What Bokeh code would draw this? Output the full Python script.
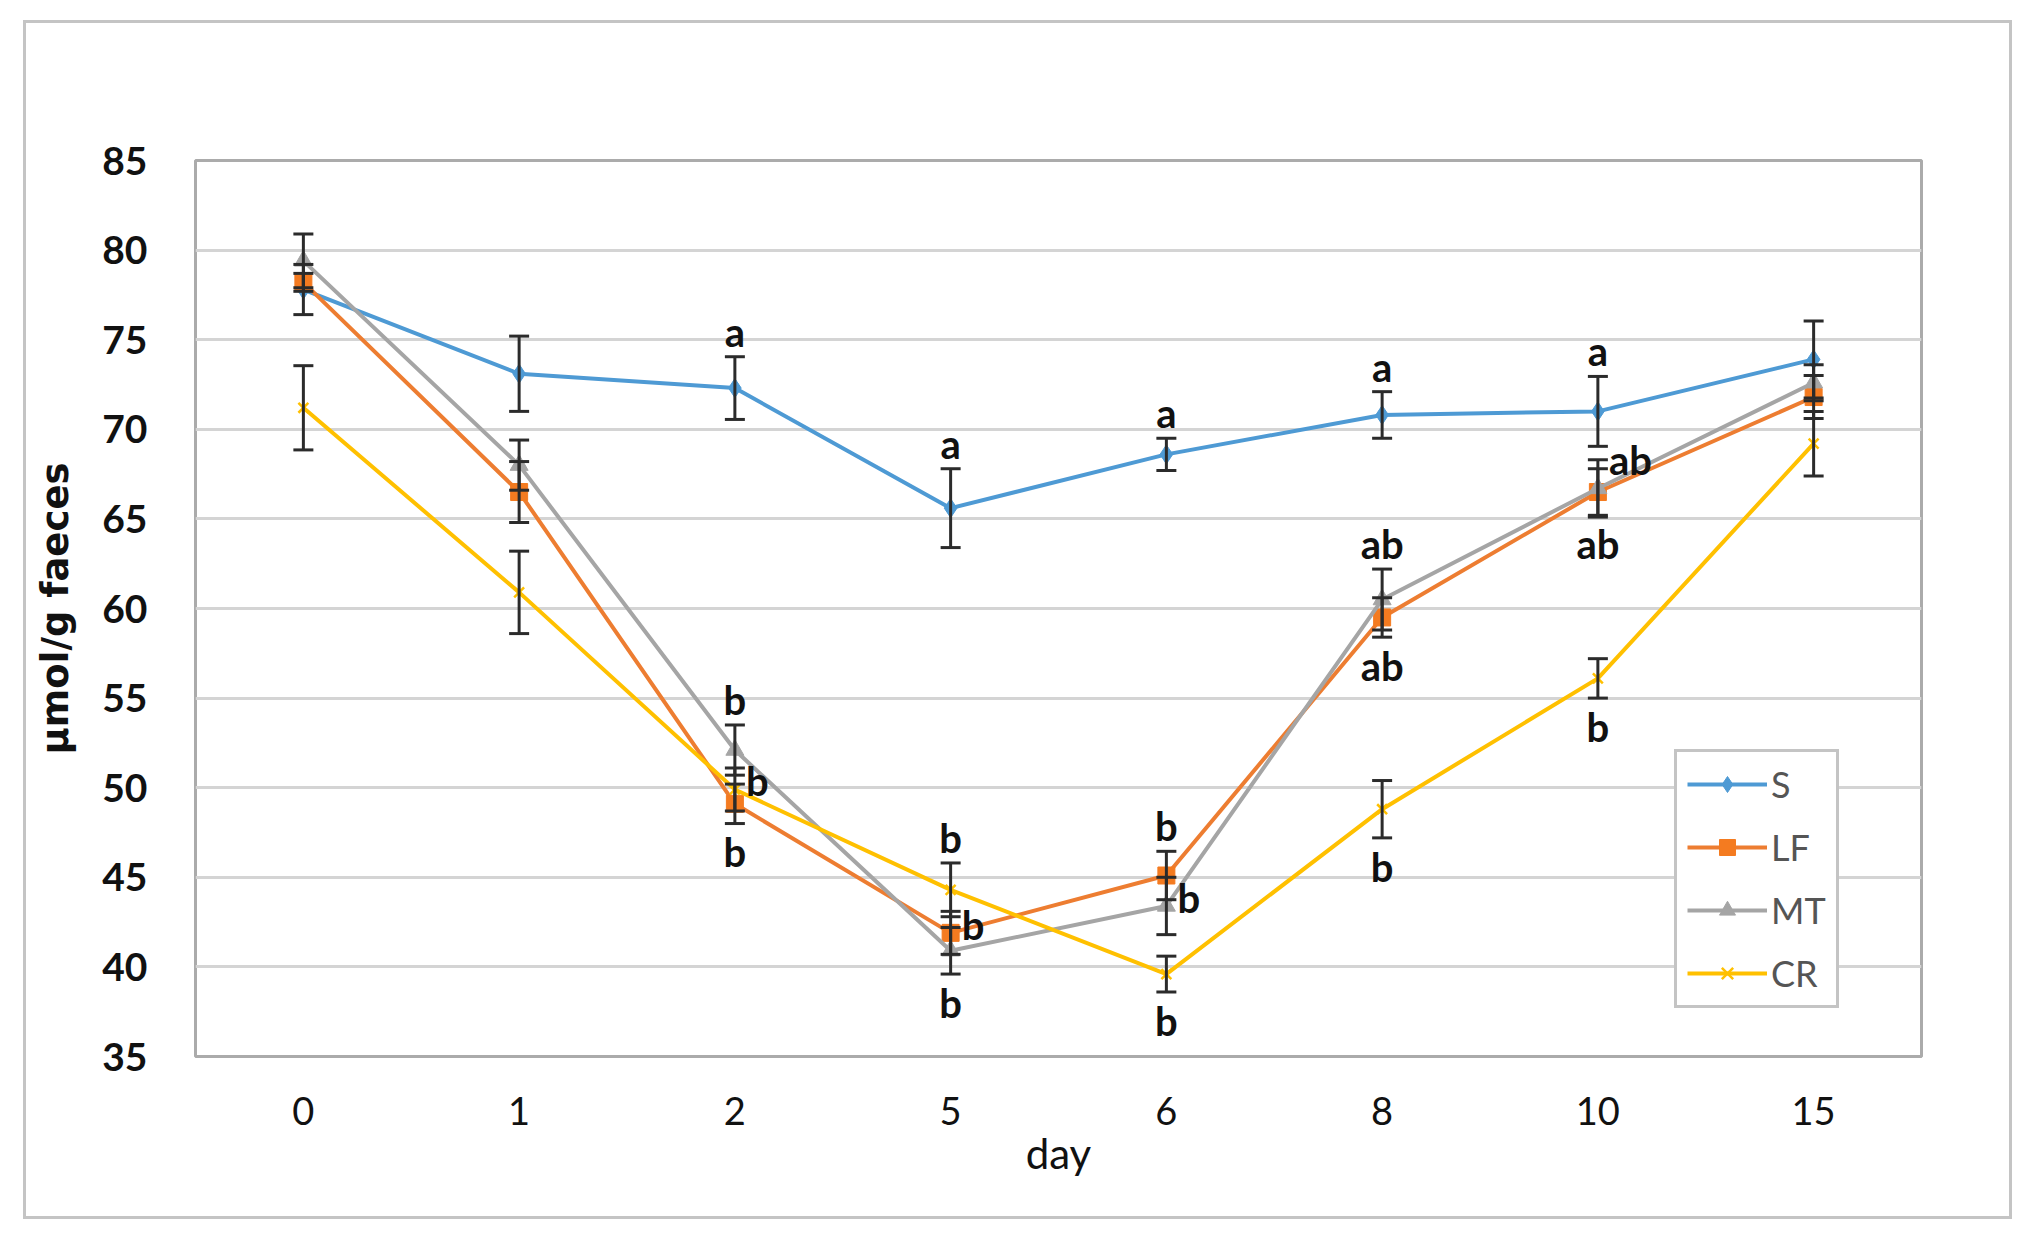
from bokeh.plotting import figure
from bokeh.models import (FactorRange, Range1d, FixedTicker, ColumnDataSource, Whisker,
                          TeeHead, Legend, LegendItem, Spacer)
from bokeh.layouts import column, row
from bokeh.core.properties import value
from bokeh.embed import file_html
from bokeh.resources import INLINE

# ---------------- data ----------------
days = ["0", "1", "2", "5", "6", "8", "10", "15"]
y_ticks = [35, 40, 45, 50, 55, 60, 65, 70, 75, 80, 85]
series_names = ["S", "LF", "MT", "CR"]

S_mean = [77.8, 73.1, 72.3, 65.6, 68.6, 70.8, 71.0, 73.9]
S_err = [1.4, 2.1, 1.75, 2.2, 0.9, 1.3, 1.95, 2.15]
LF_mean = [78.2, 66.5, 49.1, 41.9, 45.1, 59.5, 66.5, 71.8]
LF_err = [0.5, 1.7, 1.1, 1.2, 1.35, 1.1, 1.3, 1.2]
MT_mean = [79.4, 68.0, 52.1, 40.9, 43.4, 60.5, 66.7, 72.6]
MT_err = [1.5, 1.4, 1.4, 1.3, 1.6, 1.7, 1.6, 1.0]
CR_mean = [71.2, 60.9, 49.9, 44.3, 39.6, 48.8, 56.1, 69.2]
CR_err = [2.35, 2.3, 1.2, 1.5, 1.0, 1.6, 1.1, 1.8]

# significance letters: day, series they refer to, text, placement
ann_day = ["2", "2", "2", "2",
           "5", "5", "5", "5",
           "6", "6", "6", "6",
           "8", "8", "8", "8",
           "10", "10", "10", "10"]
ann_series = ["S", "MT", "CR", "LF",
              "S", "CR", "LF", "MT",
              "S", "LF", "MT", "CR",
              "S", "MT", "LF", "CR",
              "S", "MT", "LF", "CR"]
ann_text = ["a", "b", "b", "b",
            "a", "b", "b", "b",
            "a", "b", "b", "b",
            "a", "ab", "ab", "b",
            "a", "ab", "ab", "b"]
ann_place = ["above", "above", "right", "below",
             "above", "above", "right", "below",
             "above", "above", "right", "below",
             "above", "above", "below", "below",
             "above", "right_top", "below", "below"]

colors = {"S": "#4E9AD4", "LF": "#ED7D31", "MT": "#A5A5A5", "CR": "#FFC000"}
means = {"S": S_mean, "LF": LF_mean, "MT": MT_mean, "CR": CR_mean}
errs = {"S": S_err, "LF": LF_err, "MT": MT_err, "CR": CR_err}

# ---------------- figure ----------------
W, H = 1983, 1193
p = figure(width=W, height=H, x_range=FactorRange(*days, range_padding=0),
           y_range=Range1d(35, 85), output_backend="svg", toolbar_location=None,
           min_border_left=169, min_border_right=88, min_border_top=137,
           min_border_bottom=160)
# outer chart-area border drawn just outside the figure
p.styles = {"outline": "3px solid #c4c4c4", "outline-offset": "0px"}
p.background_fill_color = "white"
p.border_fill_color = "white"
p.outline_line_color = "#ababab"
p.outline_line_width = 3

p.xgrid.grid_line_color = None
p.ygrid.grid_line_color = "#d4d4d4"
p.ygrid.grid_line_width = 3
p.yaxis.ticker = FixedTicker(ticks=y_ticks)

for ax in (p.xaxis, p.yaxis):
    ax.axis_line_color = None
    ax.major_tick_line_color = None
    ax.minor_tick_line_color = None

p.yaxis.major_label_text_font = "Lato"
p.yaxis.major_label_text_font_style = "bold"
p.yaxis.major_label_text_font_size = "39px"
p.yaxis.major_label_text_color = "#111111"
p.yaxis.major_label_standoff = 42
p.yaxis.axis_label = "µmol/g faeces"
p.yaxis.axis_label_text_font = "DejaVu Sans"
p.yaxis.axis_label_text_font_style = "bold"
p.yaxis.axis_label_text_font_size = "37px"
p.yaxis.axis_label_text_color = "#111111"
p.yaxis.axis_label_standoff = 22

p.xaxis.major_label_text_font = "Lato"
p.xaxis.major_label_text_font_size = "38px"
p.xaxis.major_label_text_color = "#111111"
p.xaxis.major_label_standoff = 34
p.xaxis.axis_label = "day"
p.xaxis.axis_label_text_font = "Lato"
p.xaxis.axis_label_text_font_style = "normal"
p.xaxis.axis_label_text_font_size = "42px"
p.xaxis.axis_label_text_color = "#111111"
p.xaxis.axis_label_standoff = 0

legend_items = []
for name in series_names:
    m, e = means[name], errs[name]
    src = ColumnDataSource(dict(day=days, mean=m,
                                upper=[a + b for a, b in zip(m, e)],
                                lower=[a - b for a, b in zip(m, e)]))
    c = colors[name]
    ln = p.line("day", "mean", source=src, line_color=c, line_width=4)
    if name == "S":
        mk = p.scatter("day", "mean", source=src, marker="diamond", size=19,
                       fill_color=c, line_color=c)
    elif name == "LF":
        mk = p.scatter("day", "mean", source=src, marker="square", size=17,
                       fill_color="#F47B20", line_color="#F47B20")
    elif name == "MT":
        mk = p.scatter("day", "mean", source=src, marker="triangle", size=18,
                       fill_color=c, line_color=c)
    else:
        mk = p.scatter("day", "mean", source=src, marker="x", size=14,
                       line_color=c, line_width=2.5)
    wh = Whisker(base="day", upper="upper", lower="lower", source=src,
                 line_color="#2b2b2b", line_width=3, level="overlay",
                 upper_head=TeeHead(size=20, line_color="#2b2b2b", line_width=3),
                 lower_head=TeeHead(size=20, line_color="#2b2b2b", line_width=3))
    p.add_layout(wh)
    legend_items.append(LegendItem(label=name, renderers=[ln, mk]))

# significance letters
groups = {"center": dict(x=[], y=[], t=[]), "right": dict(x=[], y=[], t=[])}
for d, s, t, pl in zip(ann_day, ann_series, ann_text, ann_place):
    i = days.index(d)
    m, e = means[s][i], errs[s][i]
    if pl == "above":
        g, y = "center", m + e + 1.4
    elif pl == "below":
        g, y = "center", m - e - 1.6
    elif pl == "right":
        g, y = "right", m + 0.45
    else:
        g, y = "right", m + e
    groups[g]["x"].append(d)
    groups[g]["y"].append(y)
    groups[g]["t"].append(t)

for g, align, xoff in (("center", "center", 0), ("right", "left", 11)):
    p.text(x=groups[g]["x"], y=groups[g]["y"], text=groups[g]["t"],
           text_align=align, text_baseline="middle", x_offset=xoff,
           text_font=value("Lato"), text_font_style="bold",
           text_font_size="40px", text_color="#111111")

legend = Legend(items=legend_items, location=(1479, 48))
legend.border_line_color = "#8a8a8a"
legend.border_line_width = 3
legend.background_fill_color = "white"
legend.background_fill_alpha = 1
legend.label_text_font = "Lato"
legend.label_text_font_size = "36px"
legend.label_text_color = "#555555"
legend.glyph_width = 80
legend.glyph_height = 40
legend.label_height = 40
legend.spacing = 19
legend.padding = 10
legend.margin = 0
legend.label_standoff = 4
p.add_layout(legend, "center")

layout = column(Spacer(height=23), row(Spacer(width=26), p))

open("out.html", "w").write(file_html(layout, INLINE))
